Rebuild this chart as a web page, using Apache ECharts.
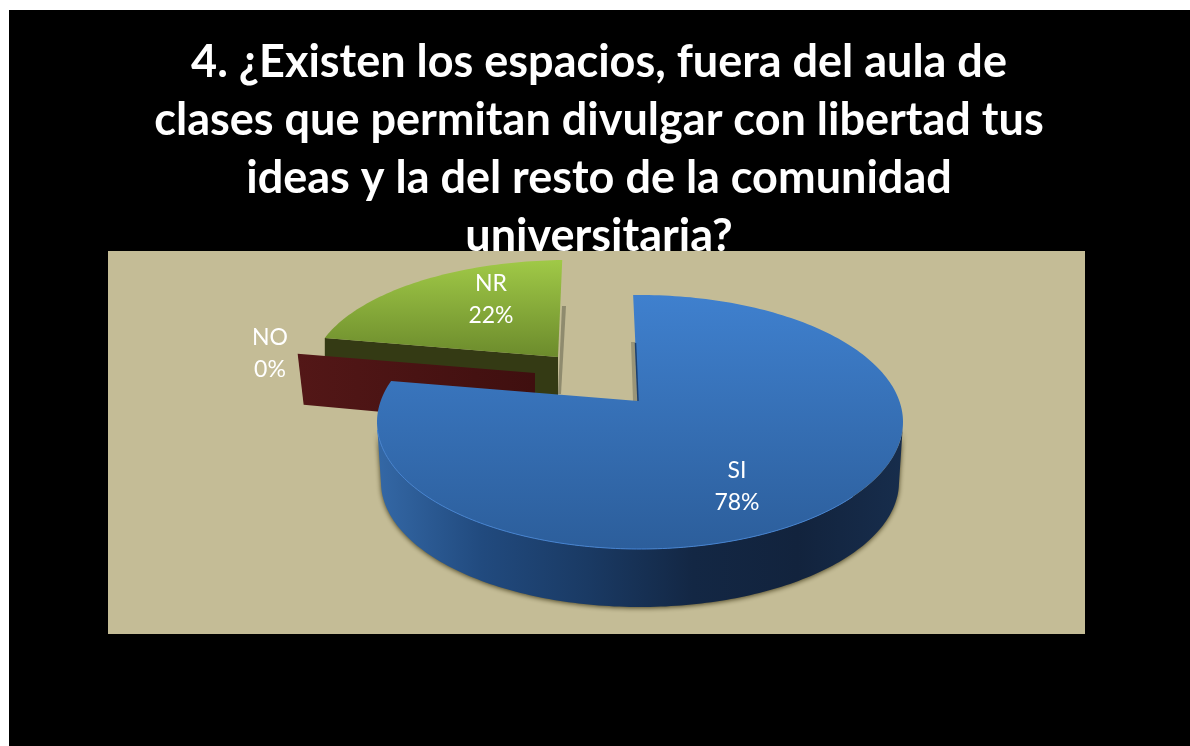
<!DOCTYPE html>
<html>
<head>
<meta charset="utf-8">
<script src="https://cdn.jsdelivr.net/npm/echarts@6/dist/echarts.min.js"></script>
<style>html,body{margin:0;padding:0;background:#fff}#c{width:1190px;height:746px}</style>
</head>
<body>
<div id="c"></div>
<script>
const titleLines = [
  "4. ¿Existen los espacios, fuera del aula de",
  "clases que permitan divulgar con libertad tus",
  "ideas y la del resto de la comunidad",
  "universitaria?"
];
const categories = ["SI", "NO", "NR"];
const values = [78, 0, 22];

// Projection of each slice of the tilted, exploded pie (not data)
const views = [
  {cx:640, cy:422, rx:263, ry:127, ax:638, ay:401, depth:60, lx:737, ly:487},
  {cx:539, cy:393, rx:255, ry:122, ax:535, ay:373, depth:53, lx:270, ly:354},
  {cx:569, cy:375, rx:258, ry:115, ax:558, ay:357, depth:55, lx:491, ly:300}
];
const total = values.reduce((a, b) => a + b, 0);
const warp = d => d - 9.7 * Math.sin(d * Math.PI / 180);   // perspective foreshortening
const param = d => (warp(d) - 91.5) * Math.PI / 180;

function arc(v, t0, t1, rx, ry, cy) {
  const pts = [], n = Math.max(2, Math.ceil(Math.abs(t1 - t0) / 0.02));
  for (let i = 0; i <= n; i++) {
    const t = t0 + (t1 - t0) * i / n;
    pts.push([v.cx + (rx || v.rx) * Math.cos(t), (cy || v.cy) + (ry || v.ry) * Math.sin(t)]);
  }
  return pts;
}
const grad = (x, y, x2, y2, stops) => ({type:'linear', x, y, x2, y2,
  colorStops: stops.map((c, i) => ({offset: i / (stops.length - 1), color: c}))});

function renderItem(params, api) {
  const i = params.dataIndex, v = views[i], val = api.value(0);
  let before = 0;
  for (let k = 0; k < i; k++) before += values[k];
  const d0 = before / total * 360, d1 = (before + val) / total * 360;
  const t0 = param(d0), t1 = param(d1);
  const top = arc(v, t0, t1);
  const kids = [];
  const start = top[0];
  const label = categories[i] + "\n" + Math.round(val / total * 100) + "%";

  if (i === 0) {
    // outer wall along the front of the pie
    const front = arc(v, Math.PI * 0.005, Math.PI * 0.995);
    const back = arc(v, Math.PI * 0.995, Math.PI * 0.005, v.rx - 4, v.ry - 2, v.cy + v.depth);
    kids.push({type:'polygon', z2:30, shape:{points: front.concat(back)},
      style:{fill: grad(0,0,1,0,['#3468a6','#214a7e','#1a3a64','#132744','#12233d','#172d4c']),
             shadowBlur:5, shadowColor:'rgba(55,48,15,0.85)', shadowOffsetY:1}});
    // shadow and dark edge along the inner cut
    kids.push({type:'polygon', z2:29, shape:{points:[
      [v.ax - 7, v.ay - 59], [v.ax - 2, v.ay - 59], [v.ax, v.ay], [v.ax - 5, v.ay]]},
      style:{fill:'#9a9578'}});
    kids.push({type:'polygon', z2:31, shape:{points:[[v.ax, v.ay]].concat(top)},
      style:{fill: grad(0,0,0,1,['#3f80ce','#2c5e9b'])}});
    kids.push({type:'line', z2:32, shape:{x1:v.ax - 2.5, y1:v.ay - 58, x2:v.ax, y2:v.ay},
      style:{stroke:'#1c3f6e', lineWidth:1.5}});
    kids.push({type:'polyline', z2:32, shape:{points: arc(v, Math.PI * 0.98, Math.PI * 0.2)},
      style:{stroke:'#4583d2', lineWidth:1, fill:null}});
  } else if (val === 0) {
    // a zero slice shows only its cut face
    kids.push({type:'polygon', z2:20, shape:{points:[
      [v.ax, v.ay], start, [start[0] + 6, start[1] + v.depth - 2], [v.ax, v.ay + v.depth]]},
      style:{fill: grad(0,0,1,0,['#531717','#3f0f0f'])}});
  } else {
    kids.push({type:'polygon', z2:9, shape:{points:[
      [v.ax + 4, v.ay - 51], [v.ax + 8, v.ay - 51], [v.ax + 3, v.ay + 37], [v.ax, v.ay + 37]]},
      style:{fill:'#8f8b6e'}});
    kids.push({type:'polygon', z2:10, shape:{points:[
      [v.ax, v.ay], start, [start[0], start[1] + v.depth], [v.ax, v.ay + v.depth]]},
      style:{fill:'#343a14'}});
    kids.push({type:'polygon', z2:11, shape:{points:[[v.ax, v.ay]].concat(top)},
      style:{fill: grad(0,0,0,1,['#a0c947','#6c8b2c'])}});
  }
  kids.push({type:'text', z2:100, style:{
    x:v.lx, y:v.ly, text:label, align:'center', verticalAlign:'middle',
    fill:'#ffffff', font:'400 23px Lato, sans-serif', lineHeight:32}});
  return {type:'group', children:kids};
}

const chart = echarts.init(document.getElementById('c'), null, {renderer:'canvas'});
chart.setOption({
  animation:false,
  backgroundColor:'#ffffff',
  title:{
    text:titleLines.join("\n"), left:594, top:28, textAlign:'center', z:1,
    textStyle:{color:'#ffffff', fontFamily:'Lato, sans-serif', fontWeight:'bold', fontSize:45, lineHeight:58}
  },
  graphic:[
    {type:'rect', z:0, silent:true, shape:{x:9, y:10, width:1181, height:736}, style:{fill:'#000000'}},
    {type:'rect', z:2, silent:true, shape:{x:108, y:251, width:977, height:383},
     style:{fill:'#c4bc96'}}
  ],
  series:[{
    type:'custom', coordinateSystem:'none', z:3, silent:true,
    renderItem, data: values.map((v, i) => ({name:categories[i], value:[v]}))
  }]
});
</script>
</body>
</html>
